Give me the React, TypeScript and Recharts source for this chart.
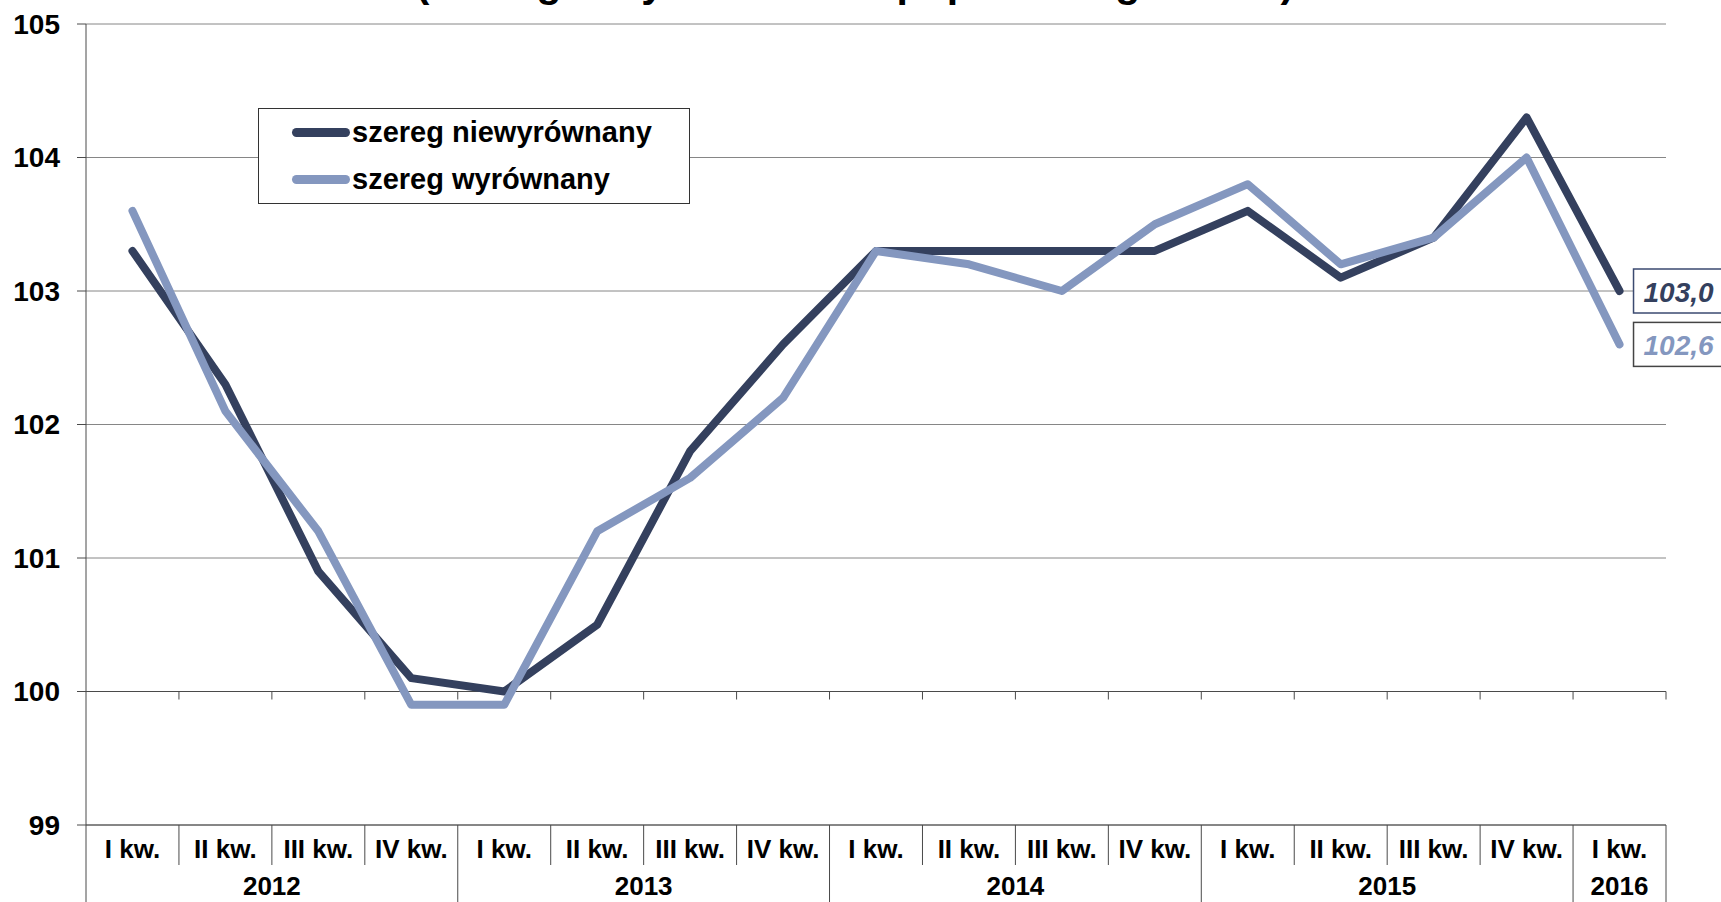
import React from "react";
import {
  CartesianGrid,
  Legend,
  Line,
  LineChart,
  ReferenceLine,
  XAxis,
  YAxis,
} from "recharts";

const quarters = [
  "I kw.", "II kw.", "III kw.", "IV kw.",
  "I kw.", "II kw.", "III kw.", "IV kw.",
  "I kw.", "II kw.", "III kw.", "IV kw.",
  "I kw.", "II kw.", "III kw.", "IV kw.",
  "I kw.",
];
const years = ["2012", "2013", "2014", "2015", "2016"];
const unadjusted = [
  103.3, 102.3, 100.9, 100.1, 100.0, 100.5, 101.8, 102.6, 103.3, 103.3, 103.3,
  103.3, 103.6, 103.1, 103.4, 104.3, 103.0,
];
const adjusted = [
  103.6, 102.1, 101.2, 99.9, 99.9, 101.2, 101.6, 102.2, 103.3, 103.2, 103.0,
  103.5, 103.8, 103.2, 103.4, 104.0, 102.6,
];
const yTicks = [99, 100, 101, 102, 103, 104, 105];
const title = "(analogiczny okres roku poprzedniego = 100)";

const data = quarters.map((q, i) => ({
  i,
  q,
  unadjusted: unadjusted[i],
  adjusted: adjusted[i],
}));

const W = 1721;
const H = 902;
const X_AXIS_H = 77;
const Y_AXIS_W = 86;
const margin = { top: 24, right: 55, bottom: 0, left: 0 };
const plotW = W - margin.left - margin.right - Y_AXIS_W;
const bw = plotW / quarters.length;
const font = "'Liberation Sans', Arial, sans-serif";
const dark = "#34405e";
const light = "#8497bf";
const grid = "#868686";
const axis = "#4a4a4a";

function QuarterTick(props: any) {
  const { x, y, payload } = props;
  const i = payload.value as number;
  const n = quarters.length;
  const groupStart = Math.floor(i / 4) * 4;
  const groupEnd = Math.min(groupStart + 3, n - 1);
  const center = (groupStart + groupEnd) / 2;
  const yearEnd = i === groupEnd;
  return (
    <g>
      {i === 0 && (
        <line x1={x - bw / 2} x2={x - bw / 2} y1={y} y2={y + 77} stroke={axis} />
      )}
      <line
        x1={x + bw / 2}
        x2={x + bw / 2}
        y1={y}
        y2={y + (yearEnd ? 77 : 40)}
        stroke={axis}
      />
      <text
        x={x}
        y={y + 24}
        textAnchor="middle"
        dominantBaseline="central"
        fontFamily={font}
        fontWeight="bold"
        fontSize={26}
        fill="#000"
      >
        {quarters[i]}
      </text>
      {i === Math.floor(center) && (
        <text
          x={x + (center - i) * bw}
          y={y + 61}
          textAnchor="middle"
          dominantBaseline="central"
          fontFamily={font}
          fontWeight="bold"
          fontSize={26}
          fill="#000"
        >
          {years[groupStart / 4]}
        </text>
      )}
    </g>
  );
}

function CrossLine(props: any) {
  const { x1, x2, y1 } = props;
  const step = (x2 - x1) / quarters.length;
  return (
    <g>
      <line x1={x1} x2={x2} y1={y1} y2={y1} stroke={axis} strokeWidth={1} />
      {quarters.map((_, k) => (
        <line
          key={k}
          x1={x1 + (k + 1) * step}
          x2={x1 + (k + 1) * step}
          y1={y1}
          y2={y1 + 8}
          stroke={axis}
        />
      ))}
    </g>
  );
}

function endLabel(color: string, border: string) {
  return (props: any) => {
    const { x, y, index, value } = props;
    if (index !== data.length - 1) return null;
    return (
      <g>
        <rect
          x={x + 14}
          y={y - 22}
          width={110}
          height={44}
          fill="#fff"
          stroke={border}
          strokeWidth={1.5}
        />
        <text
          x={x + 24}
          y={y + 1}
          dominantBaseline="central"
          fontFamily={font}
          fontWeight="bold"
          fontStyle="italic"
          fontSize={28}
          fill={color}
        >
          {Number(value).toFixed(1).replace(".", ",")}
        </text>
      </g>
    );
  };
}

function LegendBox(props: any) {
  const { payload } = props;
  return (
    <div
      style={{
        width: 432,
        height: 96,
        border: "1px solid #333",
        background: "#fff",
        boxSizing: "border-box",
      }}
    >
      {(payload || []).map((entry: any) => (
        <div
          key={entry.value}
          style={{ display: "flex", alignItems: "center", height: 47, paddingLeft: 33 }}
        >
          <div
            style={{
              width: 58,
              height: 9,
              borderRadius: 5,
              background: entry.color,
              marginRight: 2,
            }}
          />
          <span
            style={{
              fontFamily: font,
              fontWeight: "bold",
              fontSize: 29,
              color: "#000",
            }}
          >
            {entry.value}
          </span>
        </div>
      ))}
    </div>
  );
}

export default function App() {
  return (
    <div style={{ position: "absolute", left: 0, top: 0, width: W, height: H, background: "#fff" }}>
      <svg
        width={W}
        height={30}
        style={{ position: "absolute", left: 0, top: 0, zIndex: 2 }}
      >
        <text
          x={855}
          y={-3}
          textAnchor="middle"
          fontFamily={font}
          fontWeight="bold"
          fontSize={41}
          fill="#000"
        >
          {title}
        </text>
      </svg>
      <LineChart width={W} height={H} data={data} margin={margin}>
        <CartesianGrid vertical={false} stroke={grid} strokeDasharray="" />
        <XAxis
          dataKey="i"
          type="number"
          domain={[-0.5, quarters.length - 0.5]}
          ticks={data.map((d) => d.i)}
          interval={0}
          tick={<QuarterTick />}
          tickLine={false}
          tickSize={0}
          tickMargin={0}
          axisLine={{ stroke: axis }}
          height={X_AXIS_H}
        />
        <YAxis
          domain={[99, 105]}
          ticks={yTicks}
          interval={0}
          width={Y_AXIS_W}
          tickSize={9}
          tickMargin={17}
          axisLine={{ stroke: axis }}
          tickLine={{ stroke: axis }}
          tick={{ fontFamily: font, fontWeight: "bold", fontSize: 28, fill: "#000" }}
        />
        <ReferenceLine y={100} shape={<CrossLine />} />
        <Legend
          layout="vertical"
          align="center"
          verticalAlign="middle"
          content={<LegendBox />}
          wrapperStyle={{ left: 258, top: 108, width: 432, height: 96 }}
        />
        <Line
          type="linear"
          dataKey="unadjusted"
          name="szereg niewyrównany"
          stroke={dark}
          strokeWidth={8}
          strokeLinecap="round"
          strokeLinejoin="round"
          dot={false}
          activeDot={false}
          isAnimationActive={false}
          label={endLabel(dark, "#3b4a70")}
        />
        <Line
          type="linear"
          dataKey="adjusted"
          name="szereg wyrównany"
          stroke={light}
          strokeWidth={8}
          strokeLinecap="round"
          strokeLinejoin="round"
          dot={false}
          activeDot={false}
          isAnimationActive={false}
          label={endLabel(light, "#444")}
        />
      </LineChart>
    </div>
  );
}
